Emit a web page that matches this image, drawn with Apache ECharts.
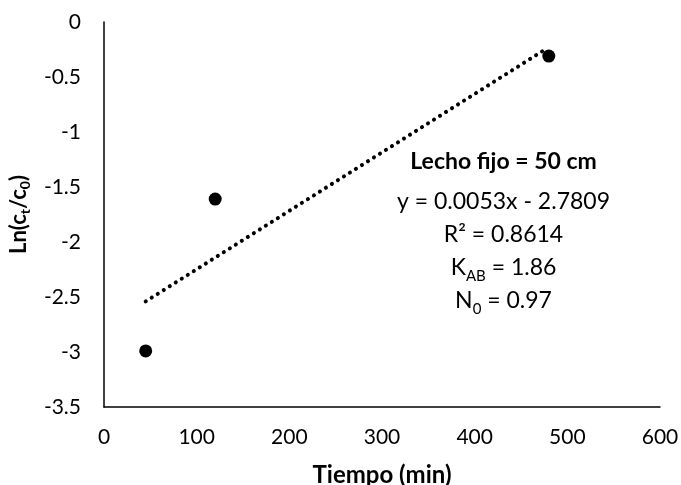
<!DOCTYPE html>
<html>
<head>
<meta charset="utf-8">
<script src="https://cdn.jsdelivr.net/npm/echarts@6/dist/echarts.min.js"></script>
<style>
    html, body { margin: 0; padding: 0; background: #fff; }
    #chart { width: 681px; height: 485px; }
</style>
</head>
<body>
<div id="chart"></div>
<script>
// datos
const timeMin = [45, 120, 480]
const lnRatio = [-2.99, -1.61, -0.31]
// extremos de la linea de tendencia
const trendX = [45, 476]
const trendY = [-2.54, -0.25]
const xTicks = { min: 0, max: 600, interval: 100 }
const yTicks = { min: -3.5, max: 0, interval: 0.5 }
const noteTitle = 'Lecho fijo = 50 cm'
const noteEq = 'y = 0.0053x - 2.7809'
const noteR2 = 'R² = 0.8614'
const noteK = '1.86'
const noteN = '0.97'

const font = 'Lato'
const chart = echarts.init(document.getElementById('chart'), null, { renderer: 'canvas' })

const option = {
    animation: false,
    textStyle: { fontFamily: font },
    grid: {
        left: 104,
        right: 21,
        top: 22,
        bottom: 78,
        outerBoundsMode: 'none',
    },
    xAxis: {
        type: 'value',
        min: xTicks.min,
        max: xTicks.max,
        interval: xTicks.interval,
        name: 'Tiempo (min)',
        nameLocation: 'middle',
        nameGap: 56,
        nameTextStyle: { fontFamily: font, fontSize: 24, fontWeight: 'bold', color: '#000' },
        axisLine: { onZero: false, lineStyle: { color: '#000', width: 1.5 } },
        axisTick: { show: false },
        splitLine: { show: false },
        axisLabel: { margin: 20, fontFamily: font, fontSize: 21, color: '#000' },
    },
    yAxis: {
        type: 'value',
        min: yTicks.min,
        max: yTicks.max,
        interval: yTicks.interval,
        name: '{m|Ln(c}{s|t}{m|/c}{s|0}{m|)}',
        nameLocation: 'middle',
        nameGap: 64,
        nameTextStyle: {
            rich: {
                m: { fontFamily: font, fontSize: 22, fontWeight: 'bold', color: '#000', lineHeight: 28 },
                s: { fontFamily: font, fontSize: 14, fontWeight: 'bold', color: '#000', lineHeight: 15, verticalAlign: 'bottom' },
            },
        },
        axisLine: { onZero: false, lineStyle: { color: '#000', width: 1.5 } },
        axisTick: { show: false },
        splitLine: { show: false },
        axisLabel: { margin: 23, fontFamily: font, fontSize: 21, color: '#000' },
    },
    graphic: [
        {
            type: 'text',
            left: 547 - 150,
            top: 150,
            style: {
                text: '{b|' + noteTitle + '}\n{m|' + noteEq + '}\n{m|' + noteR2 + '}\n{m|K}{s|AB}{m| = ' + noteK + '}\n{m|N}{s|0}{m| = ' + noteN + '}',
                width: 300,
                align: 'center',
                rich: {
                    b: { fontFamily: font, fontSize: 23, fontWeight: 'bold', fill: '#000', lineHeight: 47, align: 'center' },
                    m: { fontFamily: font, fontSize: 23, fill: '#000', lineHeight: 33, align: 'center' },
                    s: { fontFamily: font, fontSize: 15, fill: '#000', lineHeight: 24, verticalAlign: 'bottom', align: 'center' },
                },
            },
        },
    ],
    series: [
        {
            name: 'Tendencia',
            type: 'line',
            data: trendX.map((x, i) => [x, trendY[i]]),
            showSymbol: false,
            lineStyle: { color: '#000', width: 4, type: [0.1, 7], cap: 'round' },
            z: 1,
        },
        {
            name: 'Datos',
            type: 'scatter',
            data: timeMin.map((x, i) => [x, lnRatio[i]]),
            symbolSize: 13,
            itemStyle: { color: '#000', opacity: 1 },
            z: 2,
        },
    ],
}
chart.setOption(option)
</script>
</body>
</html>
